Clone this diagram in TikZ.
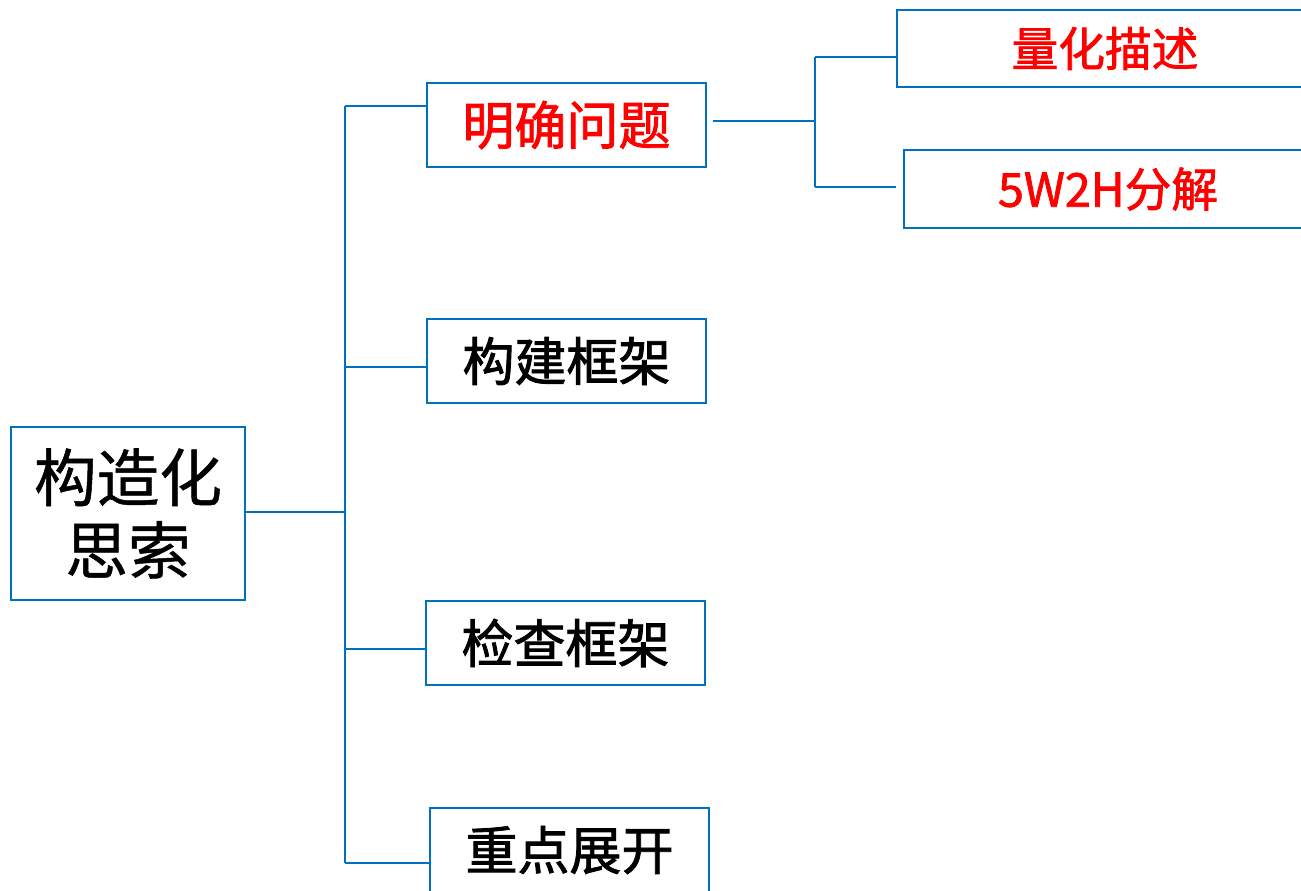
\documentclass[tikz,border=0pt]{standalone}
\usepackage{fontspec}
\setmainfont{Noto Sans CJK SC}
\newfontfamily\medf[FakeBold=1.6]{Noto Sans CJK SC}
\newfontfamily\rootf[FakeBold=0.8]{Noto Sans CJK SC}
\definecolor{bl}{HTML}{0070C0}
\definecolor{rd}{HTML}{FF0000}
\begin{document}
\begin{tikzpicture}[x=0.75pt,y=-0.75pt,
  box/.style={draw=bl,line width=1.5pt,inner sep=0pt,fill=white},
  lvl/.style={box,minimum width=209.25pt,minimum height=63pt,font=\medf\fontsize{39}{44}\selectfont},
  sub/.style={box,text=rd,font=\medf\fontsize{35}{40}\selectfont},
  conn/.style={draw=bl,line width=1.3pt}]
\useasboundingbox (0,0) rectangle (1301,891);
\clip (0,0) rectangle (1301,891);
\node[box,minimum width=175.5pt,minimum height=129.75pt,align=center,font=\rootf\fontsize{47}{52.5}\selectfont] (root) at (128,513.5) {\raisebox{2pt}{构造化}\\思索};
\node[lvl,text=rd] (q1) at (566.5,125) {明确问题};
\node[lvl] (q2) at (566.5,361) {构建框架};
\node[lvl] (q3) at (565.5,643) {检查框架};
\node[lvl] (q4) at (569.5,850) {重点展开};
\node[sub,minimum width=312pt,minimum height=57.75pt] (r1) at (1105,48.5) {量化描述};
\node[sub,minimum width=306pt,minimum height=58.5pt] (r2) at (1108,189) {5W2H分解};
\coordinate (j) at (345,512);
\coordinate (a1) at (345,106);
\coordinate (a2) at (345,367);
\coordinate (a3) at (345,649);
\coordinate (a4) at (345,863);
\draw[conn] (root.east |- j) -- (j);
\draw[conn] (a1) -- (a4);
\draw[conn] (a1) -- (a1 -| q1.west);
\draw[conn] (a2) -- (a2 -| q2.west);
\draw[conn] (a3) -- (a3 -| q3.west);
\draw[conn] (a4) -- (a4 -| q4.west);
\coordinate (b0) at (713,121);
\coordinate (b) at (815,121);
\coordinate (b1) at (815,57);
\coordinate (b2) at (815,187);
\coordinate (e2) at (896,187);
\draw[conn] (b0) -- (b);
\draw[conn] (b1) -- (b2);
\draw[conn] (b1) -- (b1 -| r1.west);
\draw[conn] (b2) -- (e2);
\end{tikzpicture}
\end{document}
